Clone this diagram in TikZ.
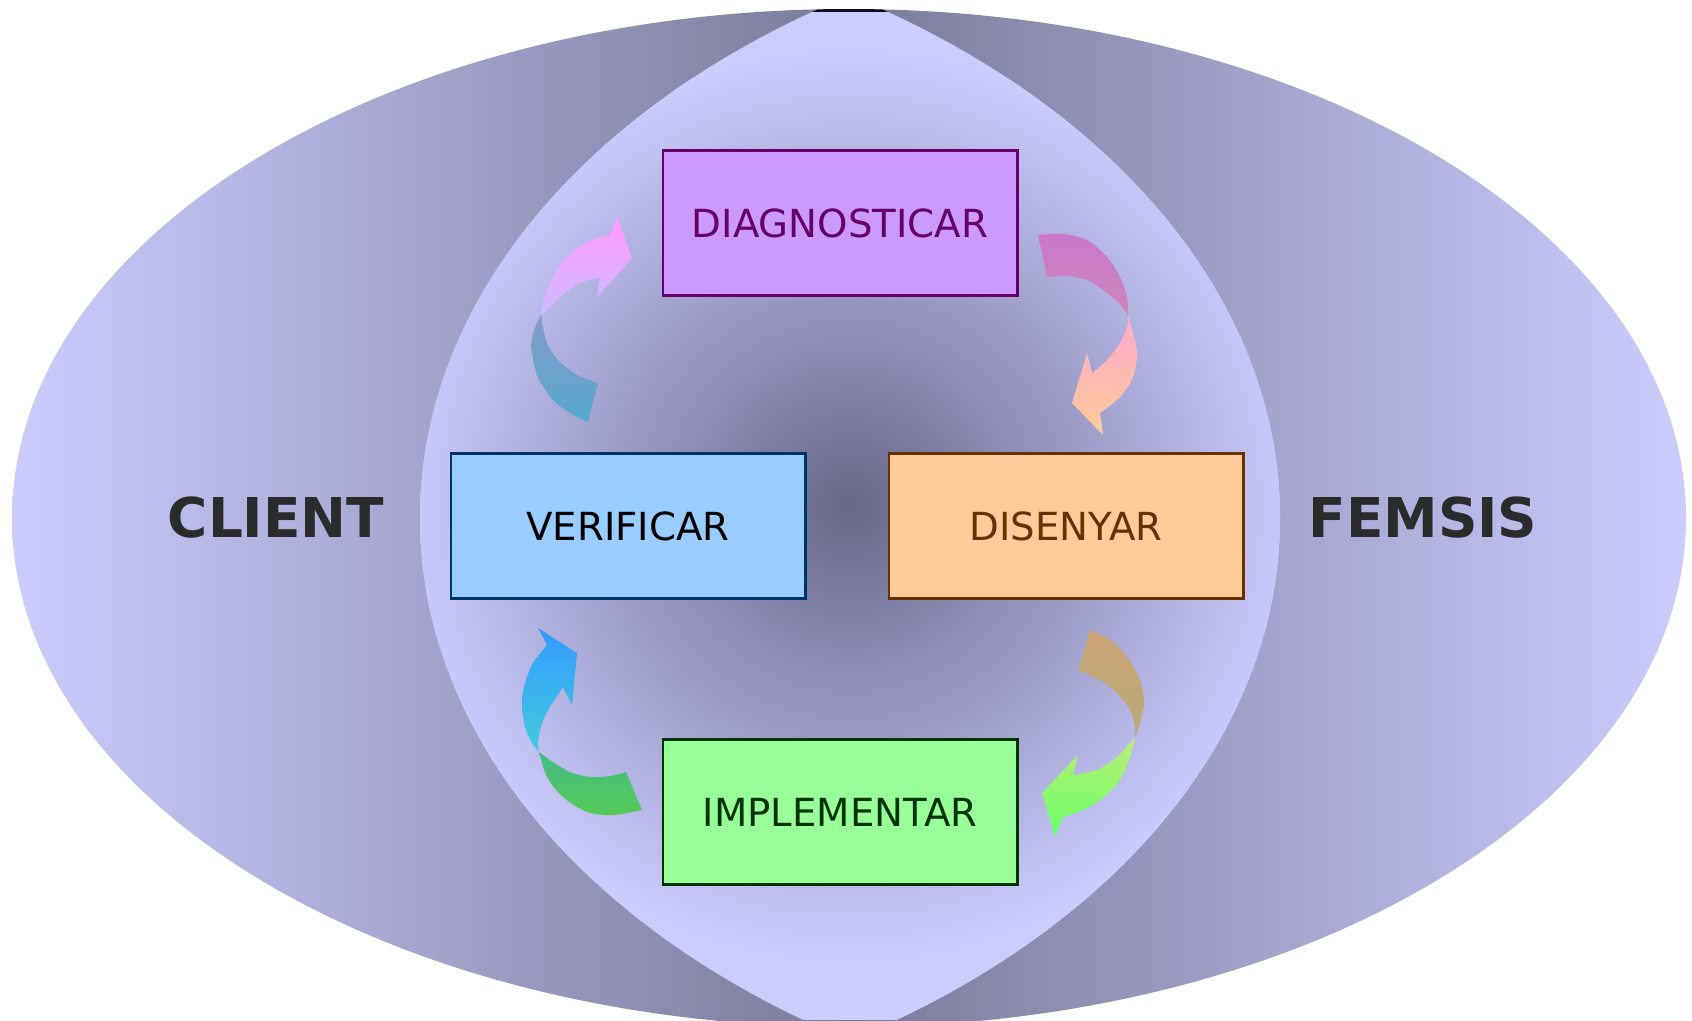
\documentclass[tikz,border=0pt]{standalone}
\usepackage{fontspec}
\setmainfont{DejaVu Sans}
\definecolor{ellLight}{HTML}{CCCCFF}
\definecolor{ellDark}{HTML}{7A7A9A}
\definecolor{lensDark}{HTML}{68688A}
\definecolor{lensTip}{HTML}{0A0A22}
\definecolor{diagFill}{HTML}{CC99FF}
\definecolor{diagLine}{HTML}{660066}
\definecolor{verifFill}{HTML}{99CCFF}
\definecolor{verifLine}{HTML}{003366}
\definecolor{disFill}{HTML}{FFCC99}
\definecolor{disLine}{HTML}{663300}
\definecolor{implFill}{HTML}{99FF99}
\definecolor{implLine}{HTML}{003300}
\definecolor{labelGray}{HTML}{2B2B2B}
\begin{document}
\begin{tikzpicture}[x=0.01cm, y=-0.01cm,
	fase/.style={rectangle, minimum width=3.54cm, minimum height=1.45cm, line width=0.8pt, font=\fontsize{11}{13}\selectfont},
	lateral/.style={font=\fontsize{15.6}{18}\selectfont\bfseries, text=labelGray}]

		\clip (0,0) rectangle (1692,1020);

		\shade[left color=ellLight, right color=ellLight, middle color=ellDark] (849,518) ellipse (837 and 509);
		\begin{scope}
			\clip (849,518) ellipse (837 and 509);
			\clip (1300,518) ellipse (880 and 608);
			\clip (400,518) ellipse (880 and 608);
			\fill[ellLight] (0,0) rectangle (1692,1020);
			\shade[inner color=lensDark, outer color=ellLight] (850,505) circle (455);
			\fill[lensTip] (780,0) rectangle (920,12);
		\end{scope}

		\node[fase, fill=diagFill, draw=diagLine, text=diagLine](diag) at (840,223){DIAGNOSTICAR};
		\node[fase, fill=verifFill, draw=verifLine, text=black](verif) at (628,526){VERIFICAR};
		\node[fase, fill=disFill, draw=disLine, text=disLine](disseny) at (1066,526){DISENYAR};
		\node[fase, fill=implFill, draw=implLine, text=implLine](impl) at (840,812){IMPLEMENTAR};

		\node[lateral](client) at (276,518){CLIENT};
		\node[lateral](femsis) at (1423,518){FEMSIS};

		\shade[top color={rgb,255:red,136;green,153;blue,204}, bottom color={rgb,255:red,85;green,170;blue,204}]
			plot[smooth] coordinates {(542,313) (533,333) (532,353) (538,377) (553,400) (570,413) (588,422)}
			-- plot[smooth] coordinates {(598,383) (577,375) (558,360) (547,343) (542,323) (542,313)} -- cycle;
		\shade[top color={rgb,255:red,255;green,153;blue,255}, bottom color={rgb,255:red,204;green,187;blue,255}]
			plot[smooth] coordinates {(540,316) (545,295) (550,283) (558,268) (567,257) (587,242) (610,235)}
			-- (617,217) -- (632,258) -- (597,297)
			-- plot[smooth] coordinates {(600,277) (580,283) (560,297) (547,310) (540,316)} -- cycle;

		\shade[top color={rgb,255:red,204;green,119;blue,204}, bottom color={rgb,255:red,204;green,136;blue,187}]
			plot[smooth] coordinates {(1038,235) (1063,234) (1087,240) (1107,257) (1120,277) (1127,297) (1128,315)}
			-- plot[smooth] coordinates {(1128,315) (1118,302) (1103,290) (1087,280) (1067,276) (1047,277)} -- cycle;
		\shade[top color={rgb,255:red,255;green,170;blue,204}, bottom color={rgb,255:red,255;green,204;blue,153}]
			plot[smooth] coordinates {(1128,315) (1133,333) (1137,353) (1133,377) (1120,397) (1100,413)}
			-- (1103,435) -- (1072,403) -- (1087,353)
			-- plot[smooth] coordinates {(1092,373) (1107,360) (1120,343) (1127,327) (1128,315)} -- cycle;

		\shade[top color={rgb,255:red,204;green,164;blue,119}, bottom color={rgb,255:red,184;green,170;blue,119}]
			plot[smooth] coordinates {(1090,630) (1110,640) (1127,657) (1140,680) (1144,703) (1140,723) (1135,738)}
			-- plot[smooth] coordinates {(1135,738) (1135,727) (1130,710) (1117,693) (1100,680) (1078,670)} -- cycle;
		\shade[top color={rgb,255:red,187;green,238;blue,119}, bottom color={rgb,255:red,102;green,255;blue,102}]
			plot[smooth] coordinates {(1135,738) (1130,757) (1120,780) (1103,798) (1083,810) (1063,817)}
			-- (1055,837) -- (1042,793) -- (1078,755)
			-- plot[smooth] coordinates {(1073,775) (1097,770) (1117,757) (1130,743) (1135,738)} -- cycle;

		\shade[top color={rgb,255:red,68;green,187;blue,136}, bottom color={rgb,255:red,85;green,204;blue,85}]
			plot[smooth] coordinates {(539,752) (547,777) (563,797) (587,812) (613,815) (642,810)}
			-- plot[smooth] coordinates {(626,772) (610,776) (590,777) (570,772) (553,762) (539,752)} -- cycle;
		\shade[top color={rgb,255:red,51;green,153;blue,255}, bottom color={rgb,255:red,68;green,204;blue,221}]
			plot[smooth] coordinates {(539,752) (532,743) (525,727) (522,703) (525,683) (533,663) (547,645)}
			-- (538,628) -- (577,653) -- (572,705)
			-- plot[smooth] coordinates {(563,687) (550,707) (542,723) (538,743) (539,752)} -- cycle;

	\end{tikzpicture}
\end{document}
